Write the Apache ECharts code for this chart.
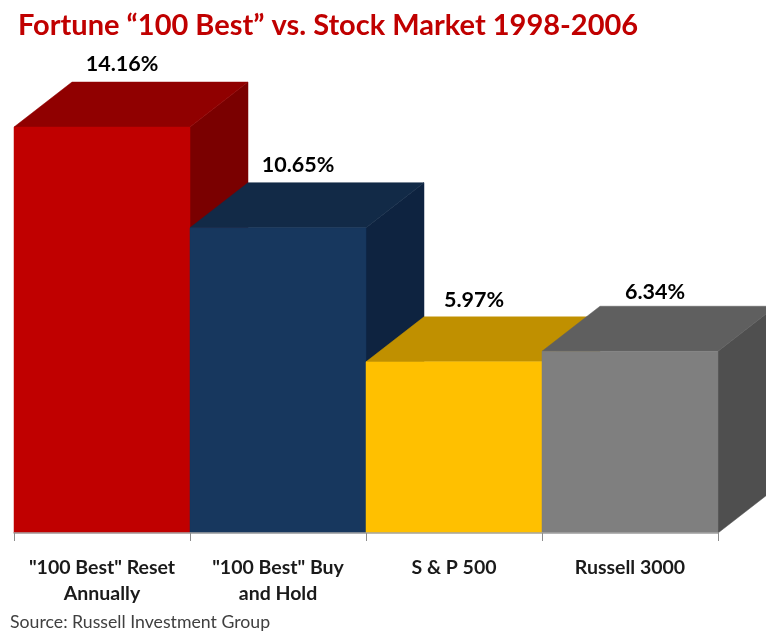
<!DOCTYPE html>
<html><head><meta charset="utf-8">
<style>html,body{margin:0;padding:0;background:#fff}#c{width:766px;height:633px}</style>
<script src="https://cdn.jsdelivr.net/npm/echarts@6/dist/echarts.min.js"></script>
</head><body><div id="c"></div>
<script>
const categories = ['"100 Best" Reset\nAnnually', '"100 Best" Buy\nand Hold', 'S & P 500', 'Russell 3000'];
const returns = [14.16, 10.65, 5.97, 6.34];
const valueLabels = ['14.16%', '10.65%', '5.97%', '6.34%'];
const frontColors = ['#c00000', '#17375e', '#ffc000', '#7f7f7f'];
const topColors = ['#900000', '#122a47', '#c09000', '#5f5f5f'];
const sideColors = ['#7a0000', '#0e2340', '#a67c00', '#4f4f4f'];
const titleText = 'Fortune \u201c100 Best\u201d vs. Stock Market 1998-2006';
const sourceText = 'Source: Russell Investment Group';
const depthX = 58, depthY = 45;
const labelShift = [[20, -18], [20, -18], [20, -17], [25, -14]];
const font = 'Lato, Carlito, "Open Sans", sans-serif';

const chart = echarts.init(document.getElementById('c'), null, {renderer: 'canvas'});
chart.setOption({
  animation: false,
  backgroundColor: '#fff',
  title: [
    {text: titleText, left: 13, top: 6, textStyle: {color: '#c00000', fontFamily: font, fontWeight: 'bold', fontSize: 29}},
    {text: sourceText, left: 5, top: 608, textStyle: {color: '#404040', fontFamily: font, fontWeight: 'normal', fontSize: 17.7}}
  ],
  grid: {left: 14, width: 704, top: 74.3, height: 458.7},
  xAxis: {
    type: 'category', data: categories,
    axisLine: {lineStyle: {color: '#a6a6a6', width: 1.5}},
    axisTick: {show: true, length: 8, lineStyle: {color: '#8c8c8c', width: 1}},
    axisLabel: {color: '#1a1a1a', fontFamily: font, fontWeight: 'bold', fontSize: 19.5, lineHeight: 26, margin: 22, interval: 0},
    z: 5
  },
  yAxis: {type: 'value', min: 0, max: 16, show: false, splitLine: {show: false}},
  series: [{
    type: 'custom',
    clip: false,
    data: returns.map((v, i) => [i, v]),
    encode: {x: 0, y: 1},
    renderItem(params, api) {
      const i = api.value(0);
      const top = api.coord([i, api.value(1)]);
      const base = api.coord([i, 0]);
      const w = api.size([1, 0])[0];
      const x0 = top[0] - w / 2, x1 = top[0] + w / 2, y0 = top[1], y1 = base[1];
      const poly = (points, fill) => ({type: 'polygon', shape: {points}, style: {fill, stroke: fill, lineWidth: 0.5}});
      return {type: 'group', children: [
        poly([[x1, y0], [x1 + depthX, y0 - depthY], [x1 + depthX, y1 - depthY], [x1, y1]], sideColors[i]),
        poly([[x0, y0], [x0 + depthX, y0 - depthY], [x1 + depthX, y0 - depthY], [x1, y0]], topColors[i]),
        poly([[x0, y0], [x1, y0], [x1, y1], [x0, y1]], frontColors[i]),
        {type: 'text', style: {
          text: valueLabels[i],
          x: top[0] + labelShift[i][0],
          y: y0 - depthY + labelShift[i][1],
          align: 'center', verticalAlign: 'middle',
          fill: '#000', font: 'bold 21.5px ' + font
        }}
      ]};
    }
  }]
});
</script></body></html>
